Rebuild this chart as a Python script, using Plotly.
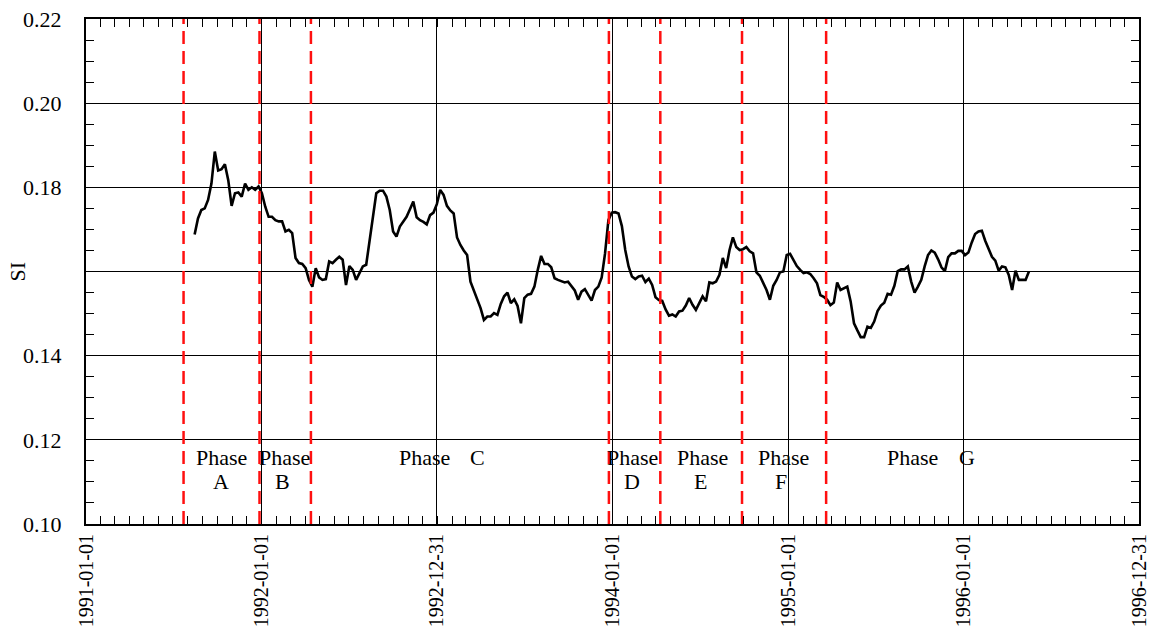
import pandas as pd
import plotly.graph_objects as go

# ---- data ----
start_date = "1991-08-15"   # first weekly observation
si_values = [
    # Aug 1991 - Nov 1992
    0.1688, 0.1726, 0.1746, 0.1750, 0.1770, 0.1809, 0.1885, 0.1840, 0.1843, 0.1855,
    0.1817, 0.1756, 0.1786, 0.1788, 0.1778, 0.1809, 0.1794, 0.1800, 0.1794, 0.1802,
    0.1786, 0.1754, 0.1730, 0.1730, 0.1722, 0.1719, 0.1719, 0.1695, 0.1699, 0.1691,
    0.1632, 0.1620, 0.1618, 0.1608, 0.1580, 0.1564, 0.1608, 0.1586, 0.1580, 0.1582,
    0.1624, 0.1620, 0.1628, 0.1635, 0.1628, 0.1568, 0.1613, 0.1604, 0.1580, 0.1596,
    0.1612, 0.1616, 0.1675, 0.1738, 0.1786, 0.1792, 0.1792, 0.1778, 0.1746, 0.1695,
    0.1683, 0.1707,
    # Nov 1992 - Jan 1994
    0.1719, 0.1730, 0.1748, 0.1766, 0.1729, 0.1722, 0.1718, 0.1712, 0.1734, 0.1740,
    0.1760, 0.1794, 0.1782, 0.1756, 0.1745, 0.1738, 0.1681, 0.1663, 0.1650, 0.1639,
    0.1576, 0.1555, 0.1534, 0.1513, 0.1485, 0.1493, 0.1493, 0.1501, 0.1497, 0.1523,
    0.1541, 0.1550, 0.1525, 0.1534, 0.1518, 0.1477, 0.1537, 0.1545, 0.1547, 0.1564,
    0.1604, 0.1637, 0.1618, 0.1618, 0.1610, 0.1584, 0.1580, 0.1576, 0.1574, 0.1576,
    0.1566, 0.1555, 0.1533, 0.1552, 0.1558, 0.1545, 0.1531, 0.1556, 0.1564, 0.1586,
    0.1643, 0.1722,
    # Jan 1994 - Mar 1995
    0.1740, 0.1741, 0.1738, 0.1708, 0.1651, 0.1612, 0.1588, 0.1582, 0.1588, 0.1590,
    0.1575, 0.1583, 0.1568, 0.1539, 0.1532, 0.1530, 0.1510, 0.1495, 0.1498, 0.1493,
    0.1505, 0.1507, 0.1519, 0.1537, 0.1521, 0.1509, 0.1526, 0.1541, 0.1529, 0.1574,
    0.1572, 0.1576, 0.1592, 0.1632, 0.1608, 0.1651, 0.1681, 0.1658, 0.1651, 0.1653,
    0.1658, 0.1648, 0.1643, 0.1598, 0.1590, 0.1574, 0.1556, 0.1533, 0.1566, 0.1580,
    0.1598, 0.1600, 0.1639, 0.1642, 0.1626, 0.1613, 0.1604, 0.1596, 0.1598, 0.1594,
    0.1584, 0.1572,
    # Mar 1995 - May 1996
    0.1544, 0.1540, 0.1533, 0.1520, 0.1526, 0.1574, 0.1556, 0.1561, 0.1564, 0.1529,
    0.1477, 0.1460, 0.1444, 0.1444, 0.1469, 0.1466, 0.1481, 0.1506, 0.1519, 0.1526,
    0.1547, 0.1545, 0.1566, 0.1601, 0.1605, 0.1605, 0.1612, 0.1576, 0.1550, 0.1564,
    0.1580, 0.1612, 0.1639, 0.1650, 0.1645, 0.1629, 0.1610, 0.1601, 0.1634, 0.1643,
    0.1643, 0.1649, 0.1649, 0.1639, 0.1645, 0.1669, 0.1689, 0.1695, 0.1697, 0.1673,
    0.1655, 0.1635, 0.1626, 0.1602, 0.1612, 0.1610, 0.1592, 0.1556, 0.1602, 0.1580,
    0.1580, 0.1580, 0.1600,
]
dates = pd.date_range(start_date, periods=len(si_values), freq="7D")

phase_boundaries = ["1991-07-23", "1991-12-28", "1992-04-13", "1993-12-24",
                    "1994-04-10", "1994-09-27", "1995-03-21"]

tick_dates = ["1991-01-01", "1992-01-01", "1992-12-31", "1994-01-01",
              "1995-01-01", "1996-01-01", "1996-12-31"]

y_tickvals = [0.10, 0.12, 0.14, 0.16, 0.18, 0.20, 0.22]
y_ticktext = ["0.10", "0.12", "0.14", "", "0.18", "0.20", "0.22"]  # 0.16 hidden by the "SI" title

# phase labels: (word line, letter line)
phase_word_x = ["1991-10-09", "1992-02-17", "1992-12-06", "1994-02-12",
                "1994-07-07", "1994-12-23", "1995-09-17"]
phase_letters = ["A", "B", "C", "D", "E", "F", "G"]
phase_letter_x = ["1991-10-09", "1992-02-14", "1993-03-26", "1994-02-10",
                  "1994-07-02", "1994-12-18", "1996-01-08"]
phase_letter_on_same_line = [False, False, True, False, False, False, True]

FONT = "Liberation Serif, Times New Roman, serif"

fig = go.Figure()
fig.add_trace(go.Scatter(x=dates, y=si_values, mode="lines",
                         line=dict(color="black", width=2.6), showlegend=False))

for b in phase_boundaries:
    fig.add_trace(go.Scatter(x=[b, b], y=[0.10, 0.22], mode="lines",
                             line=dict(color="#ff1010", width=2.5, dash="13px,7px"),
                             showlegend=False, hoverinfo="skip"))

y_word, y_letter = 0.1157, 0.1100
for wx, lx, letter, same in zip(phase_word_x, phase_letter_x, phase_letters,
                                phase_letter_on_same_line):
    fig.add_annotation(x=wx, y=y_word, text="Phase", showarrow=False,
                       xanchor="center", yanchor="middle",
                       font=dict(family=FONT, size=22, color="black"))
    fig.add_annotation(x=lx, y=y_word if same else y_letter, text=letter,
                       showarrow=False, xanchor="center", yanchor="middle",
                       font=dict(family=FONT, size=22, color="black"))

# y-axis title
fig.add_annotation(xref="paper", yref="paper", x=-0.0646, y=0.5, text="SI",
                   textangle=-90, showarrow=False, xanchor="center", yanchor="middle",
                   font=dict(family=FONT, size=22, color="black"))

fig.update_xaxes(
    type="date", range=["1991-01-01", "1996-12-31"], automargin=False,
    tickmode="array", tickvals=tick_dates, ticktext=tick_dates,
    tickangle=-90, ticks="inside", ticklen=12, tickwidth=1.2, tickcolor="black",
    showgrid=True, gridcolor="black", gridwidth=1,
    showline=True, linecolor="black", linewidth=2, mirror="ticks",
    zeroline=False,
    tickfont=dict(family=FONT, size=20, color="black"),
    minor=dict(tickmode="linear", tick0="1991-01-01", dtick="M1", ticks="inside",
               ticklen=8, tickwidth=1.2, tickcolor="black", showgrid=False),
)
fig.update_yaxes(
    range=[0.10, 0.22], automargin=False,
    tickmode="array", tickvals=y_tickvals, ticktext=y_ticktext,
    ticks="inside", ticklen=16, tickwidth=1.2, tickcolor="black",
    showgrid=True, gridcolor="black", gridwidth=1,
    showline=True, linecolor="black", linewidth=2, mirror="ticks",
    zeroline=False, ticklabelstandoff=18,
    tickfont=dict(family=FONT, size=22, color="black"),
    minor=dict(tickmode="linear", tick0=0.10, dtick=0.005, ticks="inside",
               ticklen=8, tickwidth=1.2, tickcolor="black", showgrid=False),
)
fig.update_layout(
    width=1151, height=628,
    margin=dict(l=86, r=12, t=19, b=104),
    plot_bgcolor="white", paper_bgcolor="white",
    font=dict(family=FONT, color="black"),
)
fig.write_html("out.html")
